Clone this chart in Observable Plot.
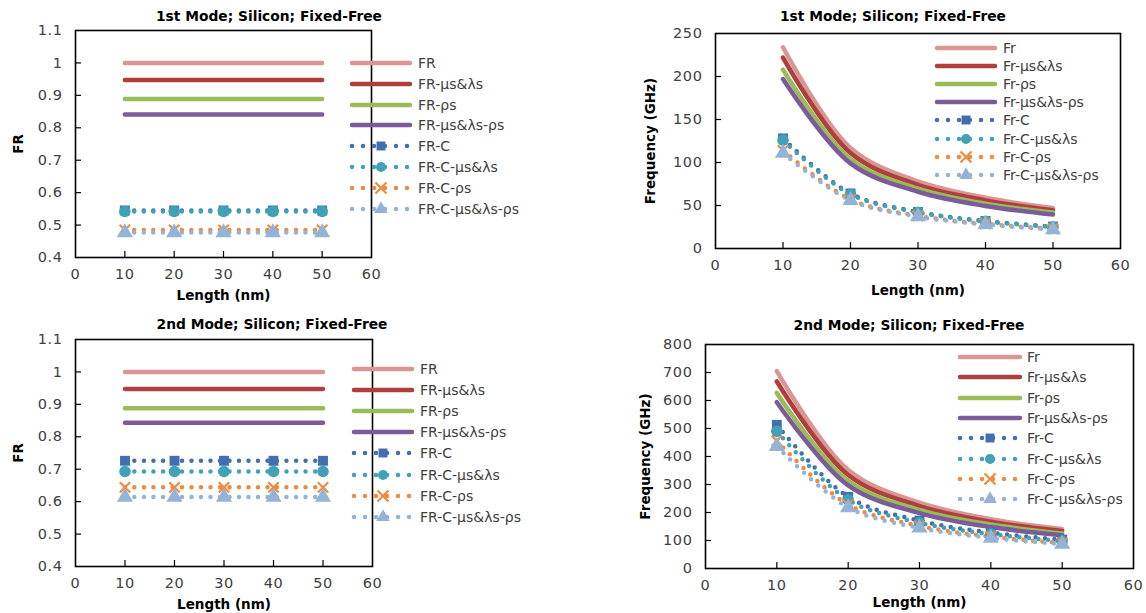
<!DOCTYPE html>
<html><head><meta charset="utf-8">
<script src="https://cdn.jsdelivr.net/npm/d3@7"></script>
<script src="https://cdn.jsdelivr.net/npm/@observablehq/plot@0.6"></script>
<style>
body{margin:0;background:#fff;}
#root{position:relative;width:1146px;height:613px;overflow:hidden;font-family:"DejaVu Sans",sans-serif;background:#fff;}
.panel{position:absolute;}
.panel svg{overflow:visible;}
.title{position:absolute;transform:translate(-50%,-50%);font-weight:bold;font-size:13.8px;color:#000;white-space:nowrap;}
.lrow{position:absolute;white-space:nowrap;font-size:14px;color:#404040;transform:translateY(-50%);}
.swatch{position:absolute;transform:translateY(-50%);overflow:visible;}
svg g[aria-label$="tick label"]{font-size:14.5px;letter-spacing:0.6px;}
svg g[aria-label$="axis label"] text{font-weight:bold;fill:#000;font-size:13.5px;}
</style></head><body><div id="root"></div>
<script>
// ---------- data ----------
const lengths = [10, 20, 30, 40, 50];
const xTicks = [0, 10, 20, 30, 40, 50, 60];
const frTicks = [0.4, 0.5, 0.6, 0.7, 0.8, 0.9, 1, 1.1];
const freq1Ticks = [0, 50, 100, 150, 200, 250];
const freq2Ticks = [0, 100, 200, 300, 400, 500, 600, 700, 800];

const frNames = ["FR", "FR-μs&λs", "FR-ρs", "FR-μs&λs-ρs", "FR-C", "FR-C-μs&λs", "FR-C-ρs", "FR-C-μs&λs-ρs"];
const freqNames = ["Fr", "Fr-μs&λs", "Fr-ρs", "Fr-μs&λs-ρs", "Fr-C", "Fr-C-μs&λs", "Fr-C-ρs", "Fr-C-μs&λs-ρs"];

// 1st mode, FR ratio
const m1_FR        = [1.000, 1.000, 1.000, 1.000, 1.000];
const m1_FR_ml     = [0.947, 0.947, 0.947, 0.947, 0.947];
const m1_FR_r      = [0.889, 0.889, 0.889, 0.889, 0.889];
const m1_FR_ml_r   = [0.841, 0.841, 0.841, 0.841, 0.841];
const m1_FRC       = [0.545, 0.545, 0.545, 0.545, 0.545];
const m1_FRC_ml    = [0.542, 0.542, 0.542, 0.542, 0.542];
const m1_FRC_r     = [0.485, 0.485, 0.485, 0.485, 0.485];
const m1_FRC_ml_r  = [0.477, 0.477, 0.477, 0.477, 0.477];

// 1st mode, frequency (GHz)
const m1_Fr        = [234, 117, 78, 59, 47];
const m1_Fr_ml     = [222, 111, 74, 56, 44.5];
const m1_Fr_r      = [208, 104, 69.5, 52, 42];
const m1_Fr_ml_r   = [197, 99, 66, 49.5, 39.5];
const m1_FrC       = [128, 64, 42.5, 32, 25.5];
const m1_FrC_ml    = [126, 63, 42, 31.5, 25];
const m1_FrC_r     = [114, 57, 38, 28.5, 23];
const m1_FrC_ml_r  = [111, 56, 37, 28, 22];

// 2nd mode, FR ratio
const m2_FR        = [1.000, 1.000, 1.000, 1.000, 1.000];
const m2_FR_ml     = [0.947, 0.947, 0.947, 0.947, 0.947];
const m2_FR_r      = [0.888, 0.888, 0.888, 0.888, 0.888];
const m2_FR_ml_r   = [0.843, 0.843, 0.843, 0.843, 0.843];
const m2_FRC       = [0.726, 0.726, 0.726, 0.726, 0.726];
const m2_FRC_ml    = [0.693, 0.693, 0.693, 0.693, 0.693];
const m2_FRC_r     = [0.644, 0.644, 0.644, 0.644, 0.644];
const m2_FRC_ml_r  = [0.614, 0.614, 0.614, 0.614, 0.614];

// 2nd mode, frequency (GHz)
const m2_Fr        = [705, 352, 235, 176, 141];
const m2_Fr_ml     = [668, 334, 223, 167, 134];
const m2_Fr_r      = [627, 313, 209, 157, 125];
const m2_Fr_ml_r   = [594, 297, 198, 148, 119];
const m2_FrC       = [513, 256, 171, 128, 103];
const m2_FrC_ml    = [490, 245, 163, 123, 98];
const m2_FrC_r     = [456, 228, 152, 114, 91];
const m2_FrC_ml_r  = [436, 218, 145, 109, 87];

// ---------- styles ----------
const seriesColors = ["#D99694", "#AF3F3C", "#9BBB59", "#7A5C9B", "#4270AE", "#3FA2B7", "#EE8B3E", "#95B3D7"];
const seriesDash = [null, null, null, null, "0 9.5", "0 9.5", "0 9.5", "0 9.5"];
const seriesSymbols = [null, null, null, null, "square", "circle", "times", "triangle"];
const symbolR = {square: 5.6, circle: 5.8, times: 4.8, triangle: 6};

const root = document.getElementById("root");

function makePanel(cfg) {
  const {series, names, yDomain, yTicks, yLabel, svgLeft, svgTop, svgW, svgH, frame, title, titleX, titleY, leg} = cfg;
  const frameW = frame[1] - frame[0], frameH = frame[3] - frame[2];
  const marks = [
    Plot.axisX(xTicks, {tickSize: 0, tickPadding: 11, fill: "#404040", label: "Length (nm)", labelAnchor: "center", labelOffset: cfg.xLabelOffset, labelArrow: "none"}),
    Plot.axisY(yTicks, {tickSize: 0, tickPadding: 13, fill: "#404040", tickFormat: d => String(d), label: yLabel, labelAnchor: "center", labelOffset: cfg.yLabelOffset, labelArrow: "none"}),
    // inward tick marks
    Plot.tickX(xTicks.slice(1, -1), {x: d => d, stroke: "#000", strokeWidth: 1.2, insetTop: frameH - 6}),
    Plot.tickY(yTicks.slice(1, -1), {y: d => d, stroke: "#000", strokeWidth: 1.2, insetRight: frameW - 6})
  ];
  series.forEach((vals, k) => {
    const data = lengths.map((x, i) => ({x, y: vals[i]}));
    marks.push(Plot.line(data, {x: "x", y: "y", stroke: seriesColors[k], strokeWidth: 4.5, curve: "catmull-rom",
      strokeDasharray: seriesDash[k] || undefined, strokeLinecap: "round"}));
  });
  series.forEach((vals, k) => {
    const s = seriesSymbols[k];
    if (!s) return;
    const data = lengths.map((x, i) => ({x, y: vals[i]}));
    if (s === "times") {
      marks.push(Plot.dot(data, {x: "x", y: "y", symbol: "times", stroke: seriesColors[k], strokeWidth: 2.2, r: symbolR[s]}));
    } else {
      marks.push(Plot.dot(data, {x: "x", y: "y", symbol: s, fill: seriesColors[k], r: symbolR[s]}));
    }
  });
  marks.push(Plot.frame({stroke: "#000", strokeWidth: 1.6}));

  const chart = Plot.plot({
    width: svgW, height: svgH,
    marginLeft: frame[0] - svgLeft, marginRight: svgLeft + svgW - frame[1],
    marginTop: frame[2] - svgTop, marginBottom: svgTop + svgH - frame[3],
    x: {domain: [0, 60]},
    y: {domain: yDomain},
    style: {fontFamily: "DejaVu Sans, sans-serif", fontSize: "14px", background: "transparent", color: "#404040"},
    marks
  });
  const wrap = document.createElement("div");
  wrap.className = "panel";
  wrap.style.left = svgLeft + "px";
  wrap.style.top = svgTop + "px";
  wrap.appendChild(chart);
  root.appendChild(wrap);

  const t = document.createElement("div");
  t.className = "title";
  t.textContent = title;
  t.style.left = titleX + "px";
  t.style.top = titleY + "px";
  root.appendChild(t);

  names.forEach((name, k) => {
    const y = leg.y0 + leg.dy * k;
    const sw = d3.create("svg").attr("class", "swatch").attr("width", leg.w).attr("height", 16)
      .style("left", leg.x + "px").style("top", y + "px");
    sw.append("line").attr("x1", 2).attr("x2", leg.w - 2).attr("y1", 8).attr("y2", 8)
      .attr("stroke", seriesColors[k]).attr("stroke-width", 4.5).attr("stroke-linecap", "round")
      .attr("stroke-dasharray", seriesDash[k] ? "0 11" : null);
    const s = seriesSymbols[k];
    if (s) {
      const sym = {square: d3.symbolSquare, circle: d3.symbolCircle, times: d3.symbolTimes, triangle: d3.symbolTriangle}[s];
      const p = sw.append("path").attr("d", d3.symbol(sym, 80)()).attr("transform", `translate(${leg.w / 2},8)`);
      if (s === "times") p.attr("fill", "none").attr("stroke", seriesColors[k]).attr("stroke-width", 2.2);
      else p.attr("fill", seriesColors[k]);
    }
    root.appendChild(sw.node());
    const r = document.createElement("div");
    r.className = "lrow";
    r.textContent = name;
    r.style.left = leg.tx + "px";
    r.style.top = y + "px";
    root.appendChild(r);
  });
}

makePanel({
  series: [m1_FR, m1_FR_ml, m1_FR_r, m1_FR_ml_r, m1_FRC, m1_FRC_ml, m1_FRC_r, m1_FRC_ml_r],
  names: frNames, yDomain: [0.4, 1.1], yTicks: frTicks, yLabel: "FR",
  svgLeft: 0, svgTop: 0, svgW: 573, svgH: 306, frame: [75, 371, 30, 257],
  xLabelOffset: 42, yLabelOffset: 62,
  title: "1st Mode; Silicon; Fixed-Free", titleX: 269, titleY: 16,
  leg: {x: 350, w: 62, tx: 418, y0: 63, dy: 20.8}
});
makePanel({
  series: [m1_Fr, m1_Fr_ml, m1_Fr_r, m1_Fr_ml_r, m1_FrC, m1_FrC_ml, m1_FrC_r, m1_FrC_ml_r],
  names: freqNames, yDomain: [0, 250], yTicks: freq1Ticks, yLabel: "Frequency (GHz)",
  svgLeft: 573, svgTop: 0, svgW: 573, svgH: 306, frame: [715, 1120, 33, 248],
  xLabelOffset: 46, yLabelOffset: 70,
  title: "1st Mode; Silicon; Fixed-Free", titleX: 893, titleY: 16,
  leg: {x: 935, w: 62, tx: 1003, y0: 48, dy: 18.1}
});
makePanel({
  series: [m2_FR, m2_FR_ml, m2_FR_r, m2_FR_ml_r, m2_FRC, m2_FRC_ml, m2_FRC_r, m2_FRC_ml_r],
  names: frNames, yDomain: [0.4, 1.1], yTicks: frTicks, yLabel: "FR",
  svgLeft: 0, svgTop: 306, svgW: 573, svgH: 307, frame: [75, 372, 339, 566],
  xLabelOffset: 42, yLabelOffset: 62,
  title: "2nd Mode; Silicon; Fixed-Free", titleX: 272, titleY: 324,
  leg: {x: 352, w: 62, tx: 420, y0: 369, dy: 21.1}
});
makePanel({
  series: [m2_Fr, m2_Fr_ml, m2_Fr_r, m2_Fr_ml_r, m2_FrC, m2_FrC_ml, m2_FrC_r, m2_FrC_ml_r],
  names: freqNames, yDomain: [0, 800], yTicks: freq2Ticks, yLabel: "Frequency (GHz)",
  svgLeft: 573, svgTop: 306, svgW: 573, svgH: 307, frame: [705, 1133, 344, 568],
  xLabelOffset: 38, yLabelOffset: 65,
  title: "2nd Mode; Silicon; Fixed-Free", titleX: 909, titleY: 325,
  leg: {x: 958, w: 64, tx: 1027, y0: 357, dy: 20.3}
});
</script></body></html>
